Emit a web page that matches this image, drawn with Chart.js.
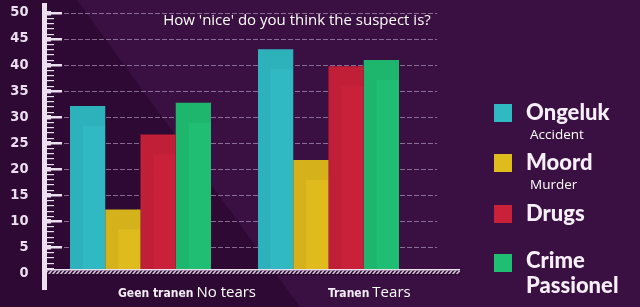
<!DOCTYPE html>
<html>
<head>
<meta charset="utf-8">
<script src="https://cdn.jsdelivr.net/npm/chart.js@4"></script>
<style>
  html, body { margin: 0; padding: 0; background: #2f0a36; }
  #wrap { width: 640px; height: 307px; position: relative; }
</style>
</head>
<body>
<div id="wrap"><canvas id="myChart"></canvas></div>
<script>
// data
const categories = ['Geen tranen', 'Tranen'];
const categoriesEn = ['No tears', 'Tears'];
const seriesNames = ['Ongeluk', 'Moord', 'Drugs', 'Crime Passionel'];
const seriesSub = ['Accident', 'Murder', '', ''];
const ongeluk = [32.1, 43.0];
const moord = [12.2, 21.7];
const drugs = [26.6, 39.7];
const crime = [32.7, 40.9];
const yMin = 0;
const yMax = 50;
const yStep = 5;
const title = "How 'nice' do you think the suspect is?";

const colors = ['#30b9c3', '#dfbb1e', '#c9213a', '#20be72'];
const axisColor = '#ebdff0';

const ctx = document.getElementById('myChart').getContext('2d');

// background with the diagonal lighter band
const bgPlugin = {
    id: 'bg',
    beforeDraw(chart) {
        const c = chart.ctx;
        c.save();
        c.fillStyle = '#2e0934';
        c.fillRect(0, 0, chart.width, chart.height);
        c.fillStyle = '#3a0f41';
        c.beginPath();
        c.moveTo(77, 0);
        c.lineTo(chart.width, 0);
        c.lineTo(chart.width, chart.height);
        c.lineTo(300, chart.height);
        c.closePath();
        c.fill();
        c.restore();
    }
};

// dashed grid lines, drawn before the bars
const gridPlugin = {
    id: 'grid',
    beforeDatasetsDraw(chart) {
        const c = chart.ctx;
        const y = chart.scales.y;
        c.save();
        c.strokeStyle = 'rgba(205,185,215,0.55)';
        c.lineWidth = 1;
        c.setLineDash([5, 2]);
        for (let v = yMin + yStep; v <= yMax; v += yStep) {
            const py = Math.round(y.getPixelForValue(v)) + 0.5;
            c.beginPath();
            c.moveTo(50, py);
            c.lineTo(437, py);
            c.stroke();
        }
        c.restore();
    }
};

// ruler-like y axis, hatched base strip, title, x labels and legend
const decoPlugin = {
    id: 'deco',
    afterDatasetsDraw(chart) {
        const c = chart.ctx;
        const y = chart.scales.y;
        c.save();

        // soft shading on each bar (darker left edge and top)
        chart.data.datasets.forEach((ds, i) => {
            chart.getDatasetMeta(i).data.forEach(bar => {
                const left = bar.x - bar.width / 2;
                const h = bar.base - bar.y;
                c.fillStyle = 'rgba(0,0,0,0.045)';
                c.fillRect(left, bar.y, 13, h);
                c.fillRect(left + 13, bar.y, bar.width - 13, Math.min(20, h));
            });
        });

        // base strip
        const by = Math.round(y.getPixelForValue(0)) - 4;
        c.fillStyle = '#2e0934';
        c.fillRect(46, by, 414, 6);
        c.fillStyle = axisColor;
        c.fillRect(46, by, 414, 1.5);
        c.beginPath();
        c.rect(46, by + 1.5, 414, 3.5);
        c.clip();
        c.strokeStyle = 'rgba(235,225,240,0.85)';
        c.lineWidth = 1.6;
        for (let sx = 40; sx < 470; sx += 4) {
            c.beginPath();
            c.moveTo(sx, by + 6);
            c.lineTo(sx + 5, by);
            c.stroke();
        }
        c.restore();
        c.save();

        // ruler
        c.fillStyle = axisColor;
        c.fillRect(42, 3, 5, 287);
        for (let v = yMin + 1; v <= yMax; v++) {
            const py = Math.round(y.getPixelForValue(v));
            if (v % yStep === 0) {
                c.fillRect(47, py - 1, 15, 2.5);
                c.fillRect(47, py - 2, 4, 4.5);
            } else {
                c.fillRect(47, py, 7, 1.2);
            }
        }

        // title
        c.fillStyle = '#ffffff';
        c.font = '15px "Open Sans"';
        c.textAlign = 'center';
        c.textBaseline = 'middle';
        c.fillText(title, 297, 21);

        // category labels: dutch in the squarish font, english after it
        c.textBaseline = 'alphabetic';
        c.textAlign = 'left';
        categories.forEach((lab, i) => {
            let sx = i === 0 ? 118 : 328;
            c.font = 'bold 12px "DejaVu Sans Condensed"';
            c.fillStyle = '#f3ecf5';
            c.fillText(lab, sx, 297);
            sx += c.measureText(lab).width + 3;
            c.font = '15px "Open Sans"';
            c.fillStyle = '#ffffff';
            c.fillText(categoriesEn[i], sx, 297);
        });

        // legend
        const sqTop = [104, 154, 205, 254];
        c.textBaseline = 'middle';
        chart.data.datasets.forEach((ds, i) => {
            c.fillStyle = ds.backgroundColor;
            c.fillRect(494, sqTop[i], 18, 18);
            c.fillStyle = '#f6eef8';
            c.font = '900 22px "Lato"';
            const words = ds.label.split(' ');
            if (words.length > 1) {
                c.fillText(words[0], 526, 261);
                c.fillText(words[1], 526, 286);
            } else {
                c.fillText(ds.label, 526, sqTop[i] + 9);
            }
            if (seriesSub[i]) {
                c.font = '13.5px "Open Sans"';
                c.fillStyle = '#ffffff';
                c.fillText(seriesSub[i], 530, sqTop[i] + 31);
            }
        });
        c.restore();
    }
};

const myChart = new Chart(ctx, {
    type: 'bar',
    data: {
        labels: categories,
        datasets: [
            { label: seriesNames[0], data: ongeluk, backgroundColor: colors[0] },
            { label: seriesNames[1], data: moord, backgroundColor: colors[1] },
            { label: seriesNames[2], data: drugs, backgroundColor: colors[2] },
            { label: seriesNames[3], data: crime, backgroundColor: colors[3] }
        ]
    },
    options: {
        responsive: true,
        maintainAspectRatio: false,
        animation: false,
        layout: { padding: { left: 0, top: 12.7, right: 217.5, bottom: 34 } },
        datasets: { bar: { barPercentage: 1, categoryPercentage: 0.75, borderWidth: 0 } },
        plugins: {
            legend: { display: false },
            title: { display: false },
            tooltip: { enabled: false }
        },
        scales: {
            x: { display: false },
            y: {
                min: yMin,
                max: yMax,
                afterFit(scale) {
                    scale.width = 46.5;
                    scale.paddingTop = 0;
                    scale.paddingBottom = 0;
                },
                grid: { display: false, drawTicks: false },
                border: { display: false },
                ticks: {
                    stepSize: yStep,
                    padding: 18,
                    color: axisColor,
                    font: { family: 'DejaVu Sans Condensed', weight: 'bold', size: 14.5 }
                }
            }
        }
    },
    plugins: [bgPlugin, gridPlugin, decoPlugin]
});
</script>
</body>
</html>
